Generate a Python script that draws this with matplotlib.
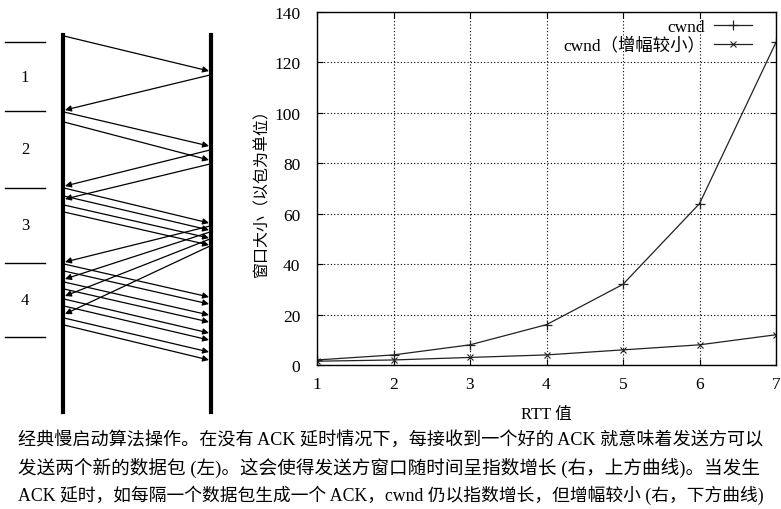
import matplotlib.pyplot as plt

# 右图数据
rtt = [1, 2, 3, 4, 5, 6, 7]
cwnd = [2, 4, 8, 16, 32, 64, 128]
cwnd_small = [1.5, 2, 3, 4, 6, 8, 12]
yticks = [0, 20, 40, 60, 80, 100, 120, 140]

# 左图：发送/到达时刻（纵向时间轴）
data_pkts = [(37, 72), (113, 147), (123, 161),
             (189, 224), (197, 231), (206, 239), (213, 246),
             (265, 298), (272, 305), (283, 316), (290, 323),
             (300, 334), (307, 341), (319, 353), (326, 361)]
ack_pkts = [(76, 111), (151, 187), (165, 200),
            (227, 263), (233, 280), (240, 297), (247, 315)]
round_marks = [43, 112, 189, 264, 338]
round_labels = ['1', '2', '3', '4']

caption = [
    "经典慢启动算法操作。在没有 ACK 延时情况下，每接收到一个好的 ACK 就意味着发送方可以",
    "发送两个新的数据包 (左)。这会使得发送方窗口随时间呈指数增长 (右，上方曲线)。当发生",
    "ACK 延时，如每隔一个数据包生成一个 ACK，cwnd 仍以指数增长，但增幅较小 (右，下方曲线)",
]

fonts = ['Liberation Serif', 'Noto Sans CJK SC']
plt.rcParams['font.family'] = fonts

fig = plt.figure(figsize=(7.81, 5.10), dpi=100)

# ---- 左边的时序图 ----
axl = fig.add_axes([0, 0, 1, 1])
axl.set_xlim(0, 781)
axl.set_ylim(510, 0)
axl.axis('off')
sender, receiver = 63, 211
axl.plot([sender, sender], [36, 413], color='black', lw=3)
axl.plot([receiver, receiver], [36, 413], color='black', lw=3)
for t0, t1 in data_pkts:
    axl.annotate('', xy=(receiver - 2, t1), xytext=(sender + 1, t0),
                 arrowprops=dict(arrowstyle='-|>', color='black', lw=0.9,
                                 mutation_scale=9, shrinkA=0, shrinkB=0))
for t0, t1 in ack_pkts:
    axl.annotate('', xy=(sender + 2, t1), xytext=(receiver - 1, t0),
                 arrowprops=dict(arrowstyle='-|>', color='black', lw=0.9,
                                 mutation_scale=9, shrinkA=0, shrinkB=0))
for y in round_marks:
    axl.plot([5, 45], [y, y], color='black', lw=1)
for i, lab in enumerate(round_labels):
    axl.text(25, (round_marks[i] + round_marks[i + 1]) / 2, lab,
             ha='center', va='center', fontsize=12)

# 说明文字：每行缩放到同样宽度（两端对齐的效果）
renderer = fig.canvas.get_renderer()
for i, line in enumerate(caption):
    t = axl.text(18, 440 + i * 27.5, line, ha='left', va='center', fontsize=13)
    w = t.get_window_extent(renderer).width
    t.set_fontsize(min(13.4, 13 * 742 / w))

# ---- 右边的折线图 ----
ax = fig.add_axes([317 / 781, 1 - 366 / 510, 459 / 781, 353 / 510])
ax.plot(rtt, cwnd, color='#222222', lw=0.9, marker='+', ms=7, mew=0.9,
        label='cwnd')
ax.plot(rtt, cwnd_small, color='#222222', lw=0.9, marker='x', ms=5, mew=0.8,
        label='cwnd（增幅较小）')
ax.set_xlim(1, 7)
ax.set_ylim(0, 140)
ax.set_xticks(rtt)
ax.set_yticks(yticks)
ax.grid(True, linestyle=(0, (1, 2)), color='black', lw=0.8)
ax.tick_params(direction='in', top=True, right=True, length=4,
               labelsize=12.5)
ax.tick_params(axis='x', pad=8)
ax.tick_params(axis='y', pad=12)
for s in ax.spines.values():
    s.set_linewidth(1)
ax.set_xlabel('RTT 值', fontsize=12, labelpad=10)
ax.set_ylabel('窗口大小（以包为单位）', fontsize=11.5, labelpad=3)
ax.legend(loc='upper right', bbox_to_anchor=(0.967, 1.005), frameon=False,
          markerfirst=False, fontsize=12.5, handlelength=2.2,
          handletextpad=0.5, borderaxespad=0.2, borderpad=0.3,
          labelspacing=0.1)

plt.savefig('out.png', dpi=100)
